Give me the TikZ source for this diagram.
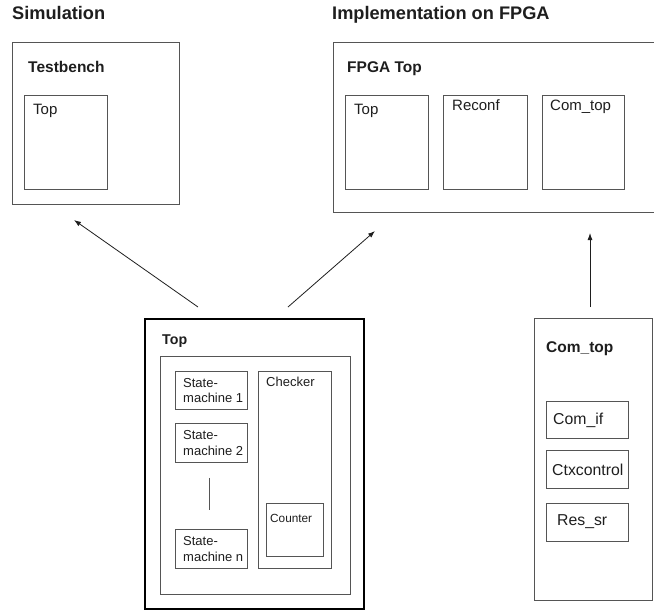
\documentclass[tikz,border=0pt]{standalone}
\usepackage{fontspec}
\setmainfont{Liberation Sans}
\usetikzlibrary{arrows.meta}
\definecolor{boxgray}{HTML}{555555}
\definecolor{inkgray}{HTML}{1E1E1E}
\begin{document}
\begin{tikzpicture}[x=1pt,y=-1pt,
  box/.style={draw=boxgray, line width=0.8pt, rectangle, inner sep=0pt, anchor=north west},
  mainbox/.style={draw=black, line width=1.6pt, rectangle, inner sep=0pt, anchor=north west},
  lbltext/.style={anchor=base west, inner sep=0pt, text=inkgray},
  titletext/.style={lbltext, font=\fontsize{18.2}{21}\selectfont\bfseries},
  headtext/.style={lbltext, font=\fontsize{15.5}{18}\selectfont\bfseries},
  blocktext/.style={lbltext, font=\fontsize{15}{18}\selectfont},
  smalltext/.style={lbltext, font=\fontsize{13}{15}\selectfont},
  arr/.style={draw=inkgray, line width=0.8pt, -{Latex[length=7pt,width=5pt]}}]
\useasboundingbox (0,0) rectangle (654,611);

% section titles
\node[titletext] (simtitle) at (12,19) {Simulation};
\node[titletext] (impltitle) at (332,19) {Implementation on FPGA};

% simulation: testbench wrapping the design top
\node[box, minimum width=167pt, minimum height=162pt] (tb) at (12,42) {};
\node[headtext] (tblbl) at (28,72) {Testbench};
\node[box, minimum width=83pt, minimum height=94pt] (tbtop) at (24,95) {};
\node[blocktext] (tbtoplbl) at (33,114) {Top};

% implementation: FPGA top level
\node[box, minimum width=323pt, minimum height=170pt] (fpga) at (333,42) {};
\node[headtext] (fpgalbl) at (347,72) {FPGA Top};
\node[box, minimum width=83pt, minimum height=94pt] (ftop) at (345,95) {};
\node[blocktext] (ftoplbl) at (354,114) {Top};
\node[box, minimum width=84pt, minimum height=94pt] (freconf) at (443,95) {};
\node[blocktext] (freconflbl) at (452,110) {Reconf};
\node[box, minimum width=82pt, minimum height=94pt] (fcom) at (542,95) {};
\node[blocktext] (fcomlbl) at (550,110) {Com\_top};

% design top
\node[mainbox, minimum width=219pt, minimum height=290pt] (top) at (144,318) {};
\node[lbltext, font=\fontsize{14.2}{17}\selectfont\bfseries] (toplbl) at (162,344) {Top};
\node[box, minimum width=190pt, minimum height=238pt] (topin) at (160,356) {};
\node[box, minimum width=72pt, minimum height=38pt] (sm1) at (175,371) {};
\node[smalltext] (sm1a) at (183,387) {State-};
\node[smalltext] (sm1b) at (183,402) {machine 1};
\node[box, minimum width=72pt, minimum height=39pt] (sm2) at (175,423) {};
\node[smalltext] (sm2a) at (183,439) {State-};
\node[smalltext] (sm2b) at (183,455) {machine 2};
\node[box, minimum width=72pt, minimum height=39pt] (smn) at (175,529) {};
\node[smalltext] (smna) at (183,545) {State-};
\node[smalltext] (smnb) at (183,561) {machine n};
\draw[draw=boxgray, line width=0.8pt, shorten <=15pt, shorten >=19pt]
  ([xshift=-2pt]sm2.south) -- ([xshift=-2pt]smn.north);
\node[box, minimum width=73pt, minimum height=197pt] (checker) at (258,371) {};
\node[smalltext] (checkerlbl) at (266,386) {Checker};
\node[box, minimum width=57pt, minimum height=53pt] (counter) at (266,503) {};
\node[lbltext, font=\fontsize{11.8}{14}\selectfont] (counterlbl) at (270,522) {Counter};

% communication top
\node[box, minimum width=118pt, minimum height=282pt] (comtop) at (534,318) {};
\node[headtext] (comtoplbl) at (546,352) {Com\_top};
\node[box, minimum width=82pt, minimum height=37pt] (comif) at (546,401) {};
\node[lbltext, font=\fontsize{15.8}{18}\selectfont] (comiflbl) at (553,424) {Com\_if};
\node[box, minimum width=82pt, minimum height=38pt] (ctx) at (546,450) {};
\node[lbltext, font=\fontsize{15.8}{18}\selectfont] (ctxlbl) at (552,475) {Ctxcontrol};
\node[box, minimum width=82pt, minimum height=38pt] (ressr) at (546,503) {};
\node[lbltext, font=\fontsize{15.8}{18}\selectfont] (ressrlbl) at (557,525) {Res\_sr};

% arrows
\coordinate (a1s) at (198,307);
\coordinate (a1e) at (74,220);
\coordinate (a2s) at (288,307);
\coordinate (a2e) at (375,231);
\coordinate (a3s) at (590,307);
\coordinate (a3e) at (590,233);
\draw[arr] (a1s) -- (a1e);
\draw[arr] (a2s) -- (a2e);
\draw[arr] (a3s) -- (a3e);
\end{tikzpicture}
\end{document}
